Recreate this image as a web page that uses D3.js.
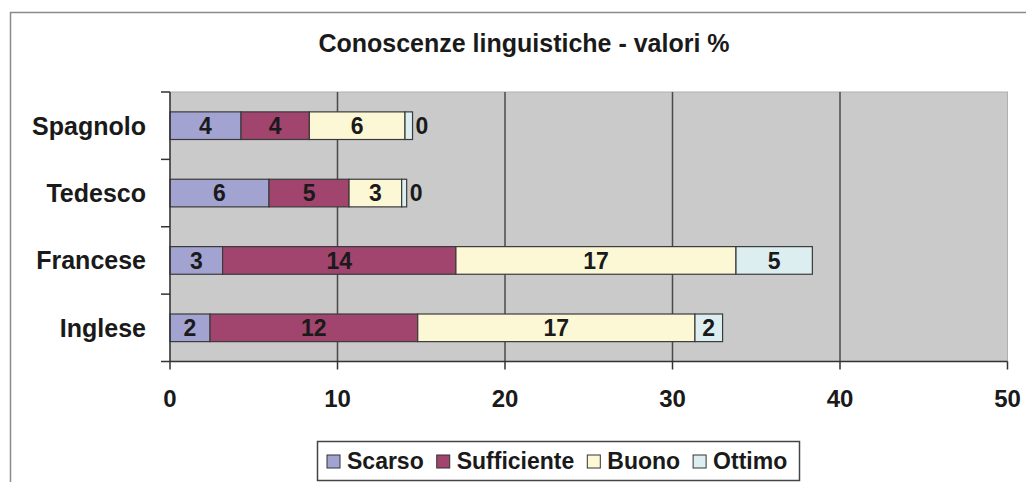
<!DOCTYPE html>
<html>
<head>
<meta charset="utf-8">
<script src="https://cdn.jsdelivr.net/npm/d3@7"></script>
<style>
  body { margin: 0; background: #fff; }
  text { font-family: "Liberation Sans", Arial, sans-serif; font-weight: bold; fill: #1a1a1a; }
</style>
</head>
<body>
<div id="chart-area"></div>
<script>
// data
var languages = ["Spagnolo", "Tedesco", "Francese", "Inglese"];
var levels = ["Scarso", "Sufficiente", "Buono", "Ottimo"];
var scarso = [4.24, 5.91, 3.14, 2.39];
var sufficiente = [4.08, 4.78, 13.93, 12.40];
var buono = [5.71, 3.14, 16.72, 16.55];
var ottimo = [0.45, 0.30, 4.56, 1.65];
var xTicks = [0, 10, 20, 30, 40, 50];
var title = "Conoscenze linguistiche - valori %";

var colors = {Scarso: "#a3a3d2", Sufficiente: "#a1446e", Buono: "#fcf8d6", Ottimo: "#ddeef1"};

var W = 1026, H = 482;
var margin = {left: 170, top: 92};
var width = 837.5, height = 269.5;

var rows = languages.map(function(lang, i) {
	return {lang: lang, Scarso: scarso[i], Sufficiente: sufficiente[i], Buono: buono[i], Ottimo: ottimo[i]};
});

var svg = d3.select("#chart-area").append("svg")
	.attr("width", W).attr("height", H);

// outer chart border
svg.append("rect")
	.attr("x", 10.5).attr("y", 12.5)
	.attr("width", W + 20).attr("height", H + 20)
	.attr("fill", "none").attr("stroke", "#8a8a8a").attr("stroke-width", 1.5);

svg.append("text")
	.attr("x", 524).attr("y", 52)
	.attr("text-anchor", "middle")
	.attr("font-size", "25px")
	.text(title);

var g = svg.append("g")
	.attr("transform", "translate(" + margin.left + "," + margin.top + ")");

var xScale = d3.scaleLinear().domain([0, 50]).range([0, width]);
var yScale = d3.scaleBand().domain(languages).range([0, height])
	.paddingInner(0.59).paddingOuter(0.295);

// plot area
g.append("rect")
	.attr("width", width).attr("height", height)
	.attr("fill", "#cacaca").attr("stroke", "#b0b0b0").attr("stroke-width", 1);

g.selectAll(".grid").data(xTicks.slice(1, -1)).enter().append("line")
	.attr("class", "grid")
	.attr("x1", function(d) { return xScale(d); }).attr("x2", function(d) { return xScale(d); })
	.attr("y1", 0).attr("y2", height)
	.attr("stroke", "#4a4a4a").attr("stroke-width", 1.5);

// stacked bars
var stack = d3.stack().keys(levels)(rows);

var series = g.selectAll(".series").data(stack).enter().append("g")
	.attr("class", "series")
	.attr("fill", function(d) { return colors[d.key]; });

series.selectAll("rect").data(function(d) { return d; }).enter().append("rect")
	.attr("x", function(d) { return xScale(d[0]); })
	.attr("y", function(d) { return yScale(d.data.lang); })
	.attr("width", function(d) { return xScale(d[1]) - xScale(d[0]); })
	.attr("height", yScale.bandwidth())
	.attr("stroke", "#3a3a3a").attr("stroke-width", 1.2);

var fmt = d3.format(".0f");
series.selectAll("text").data(function(d) { return d; }).enter().append("text")
	.attr("x", function(d) {
		var w = xScale(d[1]) - xScale(d[0]);
		return w < 20 ? xScale(d[1]) + 3 : (xScale(d[0]) + xScale(d[1])) / 2;
	})
	.attr("y", function(d) { return yScale(d.data.lang) + yScale.bandwidth() / 2; })
	.attr("dy", "0.36em")
	.attr("text-anchor", function(d) { return (xScale(d[1]) - xScale(d[0])) < 20 ? "start" : "middle"; })
	.attr("font-size", "23px")
	.text(function(d) { return fmt(d[1] - d[0]); });

// axes
var yAxis = g.append("g");
yAxis.append("line").attr("x1", 0).attr("x2", 0).attr("y1", 0).attr("y2", height)
	.attr("stroke", "#333").attr("stroke-width", 1.5);
var bounds = d3.range(languages.length + 1).map(function(i) { return i * yScale.step(); });
yAxis.selectAll(".ytick").data(bounds).enter().append("line")
	.attr("x1", -9).attr("x2", 0)
	.attr("y1", function(d) { return d; }).attr("y2", function(d) { return d; })
	.attr("stroke", "#333").attr("stroke-width", 1.5);
yAxis.selectAll(".ylab").data(languages).enter().append("text")
	.attr("x", -24)
	.attr("y", function(d) { return yScale(d) + yScale.bandwidth() / 2; })
	.attr("dy", "0.36em")
	.attr("text-anchor", "end")
	.attr("font-size", "25px")
	.text(function(d) { return d; });

var xAxis = g.append("g").attr("transform", "translate(0," + height + ")");
xAxis.append("line").attr("x1", 0).attr("x2", width)
	.attr("stroke", "#333").attr("stroke-width", 1.5);
xAxis.selectAll(".xtick").data(xTicks).enter().append("line")
	.attr("x1", function(d) { return xScale(d); }).attr("x2", function(d) { return xScale(d); })
	.attr("y1", 0).attr("y2", 8)
	.attr("stroke", "#333").attr("stroke-width", 1.5);
xAxis.selectAll(".xlab").data(xTicks).enter().append("text")
	.attr("x", function(d) { return xScale(d); })
	.attr("y", 45)
	.attr("text-anchor", "middle")
	.attr("font-size", "24px")
	.text(function(d) { return d; });

// legend
var legend = svg.append("g");
legend.append("rect")
	.attr("x", 317.5).attr("y", 441.5).attr("width", 482).attr("height", 39)
	.attr("fill", "#fff").attr("stroke", "#444").attr("stroke-width", 1.5);
var lx = 327;
levels.forEach(function(level) {
	legend.append("rect")
		.attr("x", lx).attr("y", 455).attr("width", 13).attr("height", 13)
		.attr("fill", colors[level]).attr("stroke", "#333").attr("stroke-width", 1);
	var t = legend.append("text")
		.attr("x", lx + 20).attr("y", 469)
		.attr("font-size", "23px")
		.text(level);
	lx = lx + 20 + t.node().getComputedTextLength() + 13;
});
</script>
</body>
</html>
